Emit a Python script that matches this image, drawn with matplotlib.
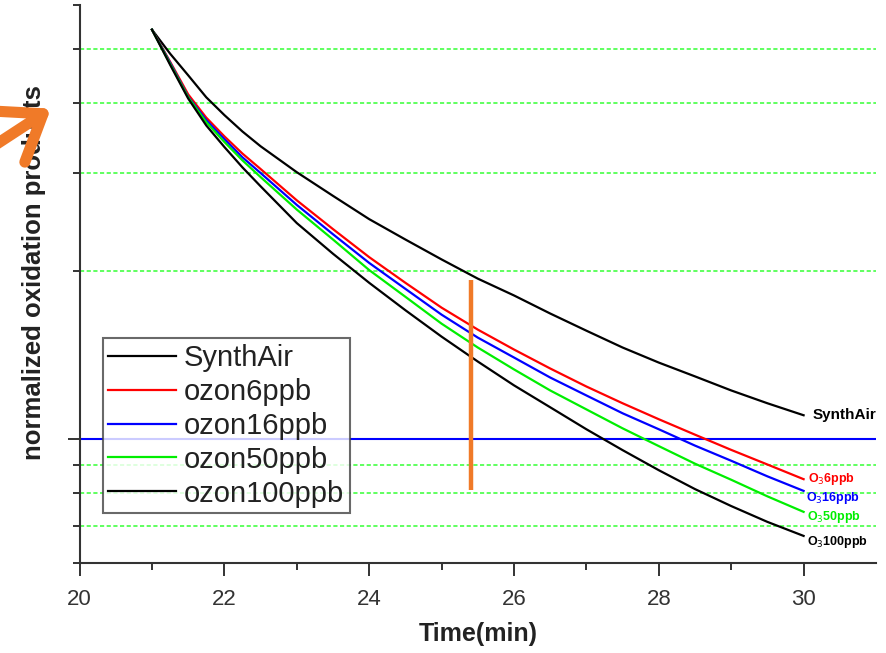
import matplotlib
matplotlib.use("Agg")
import matplotlib.pyplot as plt
from matplotlib.patches import FancyArrowPatch
from matplotlib.ticker import FixedLocator, NullFormatter

plt.rcParams['font.family'] = ['Liberation Sans', 'DejaVu Sans']

# time axis (min)
time = [21.0, 21.25, 21.5, 21.75, 22.0, 22.25, 22.5, 23.0, 23.5, 24.0, 24.5,
        25.0, 25.5, 26.0, 26.5, 27.0, 27.5, 28.0, 28.5, 29.0, 29.5, 30.0]

# normalized oxidation products per gas mixture
synth_air = [5.42, 4.91, 4.49, 4.10, 3.81, 3.56, 3.35, 3.01, 2.73, 2.48, 2.28,
             2.10, 1.94, 1.81, 1.68, 1.565, 1.46, 1.372, 1.296, 1.223, 1.160, 1.104]
ozon6 = [5.42, 4.75, 4.15, 3.77, 3.49, 3.25, 3.05, 2.68, 2.38, 2.12, 1.907,
         1.721, 1.572, 1.448, 1.339, 1.243, 1.160, 1.086, 1.019, 0.957, 0.901, 0.848]
ozon16 = [5.42, 4.73, 4.11, 3.73, 3.45, 3.20, 3.00, 2.63, 2.33, 2.07, 1.860,
          1.672, 1.521, 1.401, 1.290, 1.198, 1.113, 1.042, 0.974, 0.915, 0.858, 0.808]
ozon50 = [5.42, 4.71, 4.10, 3.70, 3.41, 3.16, 2.95, 2.58, 2.28, 2.01, 1.800,
          1.611, 1.460, 1.334, 1.223, 1.131, 1.046, 0.972, 0.904, 0.846, 0.790, 0.741]
ozon100 = [5.42, 4.69, 4.08, 3.65, 3.34, 3.07, 2.84, 2.44, 2.15, 1.907, 1.703,
           1.527, 1.378, 1.249, 1.141, 1.042, 0.956, 0.880, 0.814, 0.759, 0.711, 0.671]

series = [synth_air, ozon6, ozon16, ozon50, ozon100]
names = ['SynthAir', 'ozon6ppb', 'ozon16ppb', 'ozon50ppb', 'ozon100ppb']
end_labels = ['SynthAir', 'O$_3$6ppb', 'O$_3$16ppb', 'O$_3$50ppb', 'O$_3$100ppb']
colors = ['black', 'red', 'blue', '#00ee00', 'black']

# reference levels
minor_levels = [0.7, 0.8, 0.9, 2, 3, 4, 5]
unit_level = 1.0

# marker at t = 25.4 min
mark_t = 25.4
mark_lo, mark_hi = 0.811, 1.93

fig = plt.figure(figsize=(8.87, 6.53), dpi=100)
ax = fig.add_axes([0.0897, 0.1378, 0.8979, 0.8545])

ax.set_yscale('log')
ax.set_xlim(20, 31)
ax.set_ylim(0.6, 6)

for lv in minor_levels:
    ax.axhline(lv, color='#44ff44', lw=1.2, ls=(0, (2.5, 1.5)), zorder=1)
ax.axhline(unit_level, color='blue', lw=1.5, zorder=1)

for ys, name, col in zip(series, names, colors):
    ax.plot(time, ys, color=col, lw=1.6, label=name, zorder=3,
            solid_joinstyle='round')

# end-of-curve labels
label_x = [30.12, 30.06, 30.03, 30.05, 30.05]
label_y = [1.104, 0.848, 0.785, 0.726, 0.655]
label_size = [11, 9, 9, 9, 9]
for txt, x, y, fs, col in zip(end_labels, label_x, label_y, label_size, colors):
    ax.text(x, y, txt, color=col, fontsize=fs,
            fontweight='bold', va='center', ha='left', zorder=4)

ax.plot([mark_t, mark_t], [mark_lo, mark_hi], color='#f07a28', lw=3.2,
        solid_capstyle='butt', zorder=5)

leg = ax.legend(loc='lower left', bbox_to_anchor=(0.029, 0.089),
                fontsize=21, frameon=True, fancybox=False, borderaxespad=0,
                handlelength=2.3, handletextpad=0.27, labelspacing=0.2,
                borderpad=0.2)
leg.get_frame().set_edgecolor('#444444')
leg.get_frame().set_linewidth(1.5)
for line in leg.get_lines():
    line.set_linewidth(1.6)
for t in leg.get_texts():
    t.set_color('#222222')

for side in ['top', 'right']:
    ax.spines[side].set_visible(False)
for side in ['left', 'bottom']:
    ax.spines[side].set_color('#333333')
    ax.spines[side].set_linewidth(1.5)

ax.set_xticks([20, 22, 24, 26, 28, 30])
ax.set_xticks([21, 23, 25, 27, 29], minor=True)
ax.yaxis.set_major_locator(FixedLocator([1.0]))
ax.yaxis.set_minor_locator(FixedLocator([0.6, 0.7, 0.8, 0.9, 2, 3, 4, 5, 6]))
ax.yaxis.set_major_formatter(NullFormatter())
ax.yaxis.set_minor_formatter(NullFormatter())
ax.tick_params(axis='both', which='major', direction='out', length=9,
               width=1.4, color='#333333', labelsize=16, pad=10,
               labelcolor='#333333')
ax.tick_params(axis='both', which='minor', direction='out', length=5,
               width=1.4, color='#333333')

ax.set_xlabel('Time(min)', fontsize=18, fontweight='bold', labelpad=8,
              color='#222222')
ax.set_ylabel('normalized oxidation products', fontsize=18.5,
              fontweight='bold', color='#222222')
ax.yaxis.set_label_coords(-0.042, 0.52)

arrow = FancyArrowPatch((-0.02, 0.765), (0.060, 0.836),
                        transform=fig.transFigure,
                        arrowstyle='->,head_length=0.75,head_width=0.55',
                        mutation_scale=40, lw=8, color='#f07a28',
                        capstyle='round', joinstyle='round', zorder=10)
fig.add_artist(arrow)

fig.savefig('out.png', dpi=100)
